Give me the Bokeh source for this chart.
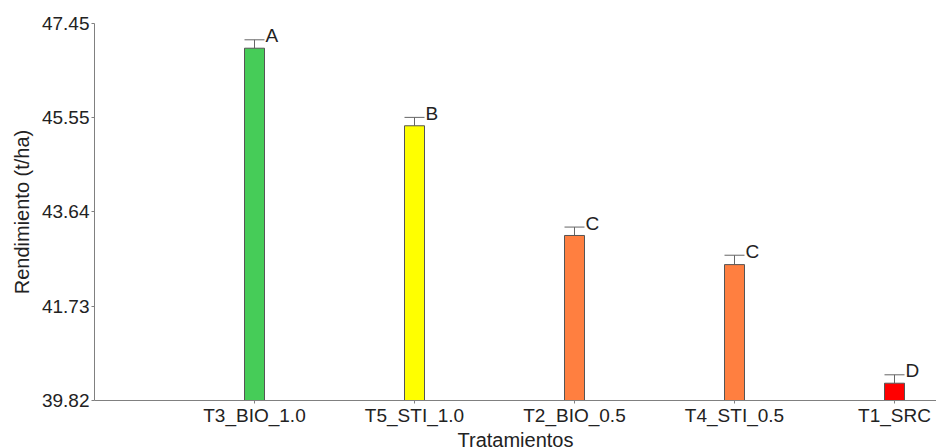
from bokeh.plotting import figure
from bokeh.models import (Range1d, FixedTicker, PrintfTickFormatter, Whisker, TeeHead,
                          ColumnDataSource, Title)
from bokeh.core.properties import value
from bokeh.embed import file_html
from bokeh.resources import INLINE

categories = ["T3_BIO_1.0", "T5_STI_1.0", "T2_BIO_0.5", "T4_STI_0.5", "T1_SRC"]
means = [46.95, 45.38, 43.16, 42.57, 40.17]
errors = [0.17, 0.17, 0.17, 0.19, 0.17]
letters = ["A", "B", "C", "C", "D"]
colors = ["#46CC58", "#FFFF00", "#FF7F40", "#FF7F40", "#FF0000"]
y_ticks = [39.82, 41.73, 43.64, 45.55, 47.45]

FONT = "Liberation Sans"
TXT = "#222222"
GRAY = "#808080"

xs = list(range(len(categories)))
src = ColumnDataSource(dict(
    x=xs, top=means, upper=[m + e for m, e in zip(means, errors)],
    letter=letters, color=colors,
))

p = figure(width=936, height=448, output_backend="svg", toolbar_location=None,
           x_range=Range1d(-1.0, 4.2625), y_range=Range1d(y_ticks[0], y_ticks[-1]),
           min_border_left=94, min_border_right=0, min_border_top=23, min_border_bottom=47)
p.outline_line_color = None
p.xgrid.grid_line_color = None
p.ygrid.grid_line_color = None
p.background_fill_color = "white"
p.border_fill_color = "white"

p.vbar(x="x", top="top", bottom=y_ticks[0], width=0.125, source=src,
       fill_color="color", line_color="#555555", line_width=1)

w = Whisker(base="x", lower="top", upper="upper", source=src, dimension="height",
            line_color="#666666", line_width=1,
            upper_head=TeeHead(size=20, line_color="#666666", line_width=1),
            lower_head=None)
p.add_layout(w)

p.text(x="x", y="upper", text="letter", source=src, x_offset=11, y_offset=-4,
       text_font=value(FONT), text_font_size="19px", text_color=TXT,
       text_baseline="alphabetic", text_align="left")

# axes
p.xaxis.ticker = FixedTicker(ticks=xs)
p.xaxis.major_label_overrides = {i: c for i, c in enumerate(categories)}
p.yaxis.ticker = FixedTicker(ticks=y_ticks)
p.yaxis.formatter = PrintfTickFormatter(format="%.2f")
for ax in (p.xaxis[0], p.yaxis[0]):
    ax.axis_line_color = GRAY
    ax.major_tick_line_color = GRAY
    ax.major_tick_out = 3
    ax.major_tick_in = 0
    ax.minor_tick_line_color = None
    ax.major_label_text_font = FONT
    ax.major_label_text_font_size = "19px"
    ax.major_label_text_color = TXT
    ax.major_label_standoff = 2
    ax.axis_label_text_font = FONT
    ax.axis_label_text_font_size = "20px"
    ax.axis_label_text_color = TXT
    ax.axis_label_text_font_style = "normal"
p.xaxis.major_label_standoff = 1

p.yaxis.axis_label = "Rendimiento (t/ha)"
p.yaxis.axis_label_standoff = 6

xtitle = Title(text="Tratamientos", align="center", offset=60, standoff=-4,
               text_font=FONT, text_font_size="20px", text_color=TXT,
               text_font_style="normal")
p.add_layout(xtitle, "below")

open("out.html", "w").write(file_html(p, INLINE))
